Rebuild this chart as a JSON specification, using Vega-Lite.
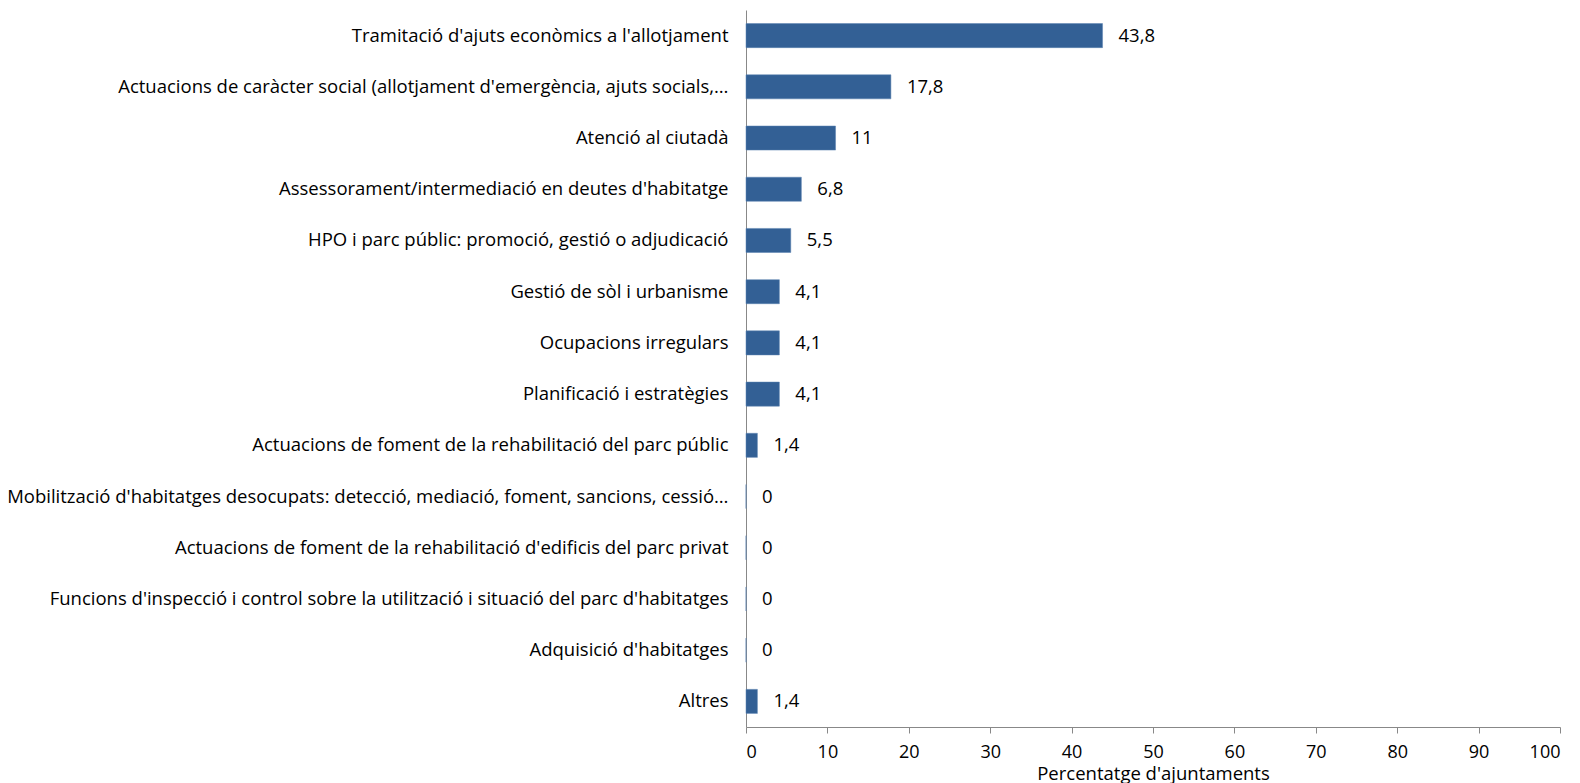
{
  "$schema": "https://vega.github.io/schema/vega-lite/v6.json",
  "autosize": {"type": "none"},
  "padding": {"left": 746, "top": 10, "right": 20, "bottom": 56},
  "width": 814,
  "height": 717,
  "background": "white",
  "config": {
    "view": {"stroke": null},
    "font": "Open Sans",
    "locale": {"number": {"decimal": ",", "thousands": ".", "grouping": [3], "currency": ["", " €"]}}
  },
  "data": {"values": [
    {"cat": "Tramitació d'ajuts econòmics a l'allotjament", "v": 43.8},
    {"cat": "Actuacions de caràcter social (allotjament d'emergència, ajuts socials,…", "v": 17.8},
    {"cat": "Atenció al ciutadà", "v": 11},
    {"cat": "Assessorament/intermediació en deutes d'habitatge", "v": 6.8},
    {"cat": "HPO i parc públic: promoció, gestió o adjudicació", "v": 5.5},
    {"cat": "Gestió de sòl i urbanisme", "v": 4.1},
    {"cat": "Ocupacions irregulars", "v": 4.1},
    {"cat": "Planificació i estratègies", "v": 4.1},
    {"cat": "Actuacions de foment de la rehabilitació del parc públic", "v": 1.4},
    {"cat": "Mobilització d'habitatges desocupats: detecció, mediació, foment, sancions, cessió…", "v": 0},
    {"cat": "Actuacions de foment de la rehabilitació d'edificis del parc privat", "v": 0},
    {"cat": "Funcions d'inspecció i control sobre la utilització i situació del parc d'habitatges", "v": 0},
    {"cat": "Adquisició d'habitatges", "v": 0},
    {"cat": "Altres", "v": 1.4}
  ]},
  "encoding": {
    "y": {"field": "cat", "type": "nominal", "sort": null,
      "scale": {"paddingInner": 0.53, "paddingOuter": 0.265},
      "axis": {"title": null, "ticks": false, "labelLimit": 800, "labelPadding": 18, "labelFontSize": 18.5, "labelColor": "#000", "domainColor": "#888", "labelFont": "Open Sans"}},
    "x": {"field": "v", "type": "quantitative",
      "scale": {"domain": [0, 100], "nice": false},
      "axis": {"title": "Percentatge d'ajuntaments", "titleFontWeight": "normal", "titleFontSize": 18.5, "titleColor": "#000", "titlePadding": 3, "values": [0,10,20,30,40,50,60,70,80,90,100], "format": "d", "grid": false, "tickSize": 6, "tickColor": "#888", "domainColor": "#888", "labelFontSize": 18, "labelColor": "#000", "labelPadding": 10}}
  },
  "layer": [
    {"mark": {"type": "bar", "color": "#336095", "stroke": "#5a80b0", "strokeWidth": 0.5}},
    {"mark": {"type": "text", "align": "left", "dx": 16, "fontSize": 18.5, "color": "#000", "font": "Open Sans"},
     "encoding": {"text": {"field": "v", "type": "quantitative", "format": ".1~f"}}}
  ]
}
